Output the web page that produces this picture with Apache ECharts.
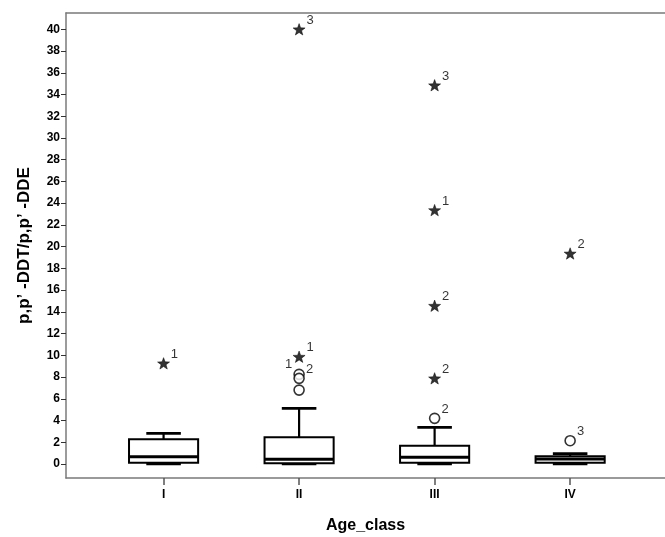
<!DOCTYPE html>
<html>
<head>
<meta charset="utf-8">
<script src="https://cdn.jsdelivr.net/npm/echarts@6/dist/echarts.min.js"></script>
<style>
  html, body { margin: 0; padding: 0; background: #fff; }
  #chart { width: 665px; height: 537px; }
</style>
</head>
<body>
<div id="chart"></div>
<script>
  "use strict";
  var groups = ['I', 'II', 'III', 'IV'];
  var groupPos = [1, 2, 3, 4];
  var boxMin = [0, 0, 0, 0];
  var boxQ1 = [0.12, 0.06, 0.12, 0.12];
  var boxMedian = [0.67, 0.43, 0.62, 0.45];
  var boxQ3 = [2.27, 2.45, 1.68, 0.72];
  var boxMax = [2.82, 5.12, 3.37, 0.95];
  var yTicks = [0, 2, 4, 6, 8, 10, 12, 14, 16, 18, 20, 22, 24, 26, 28, 30, 32, 34, 36, 38, 40];
  // extreme values: [group, value, case label, label side]
  var stars = [
    [1, 9.26, '1', 'right'],
    [2, 40.0, '3', 'right'],
    [2, 9.87, '1', 'right'],
    [3, 34.85, '3', 'right'],
    [3, 23.36, '1', 'right'],
    [3, 14.56, '2', 'right'],
    [3, 7.88, '2', 'right'],
    [4, 19.37, '2', 'right']
  ];
  // outliers: [group, value, case label, label side]
  var circles = [
    [2, 8.25, '1', 'left'],
    [2, 7.88, '2', 'right'],
    [2, 6.8, '', 'right'],
    [3, 4.2, '2', 'right'],
    [4, 2.14, '3', 'right']
  ];
  // case labels whose marker is hidden under a whisker
  var hiddenLabels = [
    [2, 5.12, '3', 'right']
  ];

  var starPath = 'path://M0,-10 L2.4,-3.3 L9.51,-3.09 L3.9,1.27 L5.88,8.09 L0,4.1 L-5.88,8.09 L-3.9,1.27 L-9.51,-3.09 L-2.4,-3.3 Z';
  var font = 'Arial, "Liberation Sans", sans-serif';
  var frameColor = '#7a7a7a';

  function toPoints(list) {
    return list.map(function (d) {
      return {
        value: [d[0], d[1]],
        label: {
          formatter: d[2],
          position: d[3],
          offset: d[3] === 'left' ? [0, -10] : [0, -9]
        }
      };
    });
  }

  var boxData = groups.map(function (g, i) {
    return [groupPos[i], boxMin[i], boxQ1[i], boxMedian[i], boxQ3[i], boxMax[i]];
  });

  function renderBox(params, api) {
    var x = api.value(0);
    var pMin = api.coord([x, api.value(1)]);
    var pQ1 = api.coord([x, api.value(2)]);
    var pMed = api.coord([x, api.value(3)]);
    var pQ3 = api.coord([x, api.value(4)]);
    var pMax = api.coord([x, api.value(5)]);
    var half = api.size([1, 0])[0] * 0.255;
    var cx = pMed[0];
    var line = {stroke: '#000', lineWidth: 2.2};
    return {
      type: 'group',
      children: [
        {type: 'line', shape: {x1: cx, y1: pQ3[1], x2: cx, y2: pMax[1]}, style: line},
        {type: 'line', shape: {x1: cx, y1: pQ1[1], x2: cx, y2: pMin[1]}, style: line},
        {type: 'line', shape: {x1: cx - half / 2, y1: pMax[1], x2: cx + half / 2, y2: pMax[1]}, style: {stroke: '#000', lineWidth: 2.6}},
        {type: 'line', shape: {x1: cx - half / 2, y1: pMin[1], x2: cx + half / 2, y2: pMin[1]}, style: {stroke: '#000', lineWidth: 2.6}},
        {type: 'rect', shape: {x: cx - half, y: pQ3[1], width: half * 2, height: pQ1[1] - pQ3[1]},
          style: {fill: '#fff', stroke: '#000', lineWidth: 2}},
        {type: 'line', shape: {x1: cx - half, y1: pMed[1], x2: cx + half, y2: pMed[1]}, style: {stroke: '#000', lineWidth: 3}}
      ]
    };
  }

  var caseLabel = {
    show: true,
    distance: 1,
    color: '#000',
    fontSize: 13,
    fontFamily: font
  };

  var option = {
    backgroundColor: '#fff',
    animation: false,
    grid: {
      left: 66,
      top: 13,
      right: 0,
      bottom: 59,
      outerBoundsMode: 'none'
    },
    xAxis: [{
      type: 'value',
      min: 0.28,
      max: 4.70,
      name: 'Age_class',
      nameLocation: 'middle',
      nameGap: 40,
      nameTextStyle: {fontSize: 16, fontWeight: 'bold', color: '#000', fontFamily: font},
      splitLine: {show: false},
      axisLine: {show: true, onZero: false, lineStyle: {color: frameColor, width: 1.5}},
      axisTick: {show: true, length: 7, customValues: groupPos, lineStyle: {color: '#555', width: 1.5}},
      axisLabel: {
        customValues: groupPos,
        margin: 11,
        fontSize: 12,
        fontWeight: 'bold',
        color: '#000',
        fontFamily: font,
        formatter: function (v) { return groups[groupPos.indexOf(v)] || ''; }
      }
    }, {
      // top edge of the frame
      type: 'value',
      position: 'top',
      min: 0.28,
      max: 4.70,
      splitLine: {show: false},
      axisLine: {show: true, onZero: false, lineStyle: {color: frameColor, width: 1.5}},
      axisTick: {show: false},
      axisLabel: {show: false}
    }],
    yAxis: {
      type: 'value',
      min: -1.29,
      max: 41.5,
      name: 'p,p\u2019 -DDT/p,p\u2019 -DDE',
      nameLocation: 'middle',
      nameGap: 33,
      nameTextStyle: {fontSize: 17, fontWeight: 'bold', color: '#000', fontFamily: font},
      splitLine: {show: false},
      axisLine: {show: true, onZero: false, lineStyle: {color: frameColor, width: 1.5}},
      axisTick: {show: true, length: 5, customValues: yTicks, lineStyle: {color: '#333', width: 1}},
      axisLabel: {
        customValues: yTicks,
        margin: 6,
        fontSize: 12,
        fontWeight: 'bold',
        color: '#000',
        fontFamily: font
      }
    },
    series: [
      {
        type: 'custom',
        renderItem: renderBox,
        encode: {x: 0, y: [1, 2, 3, 4, 5]},
        data: boxData,
        z: 2
      },
      {
        type: 'scatter',
        symbol: 'circle',
        symbolSize: 10,
        itemStyle: {color: '#fff', borderColor: '#000', borderWidth: 1.6},
        label: caseLabel,
        data: toPoints(circles),
        z: 3
      },
      {
        type: 'scatter',
        symbol: starPath,
        symbolKeepAspect: true,
        symbolSize: 12,
        itemStyle: {color: '#000', borderColor: '#000', borderWidth: 0.6},
        label: caseLabel,
        data: toPoints(stars),
        z: 3
      },
      {
        type: 'scatter',
        symbol: 'none',
        label: caseLabel,
        data: toPoints(hiddenLabels),
        z: 3
      }
    ]
  };

  var chart = echarts.init(document.getElementById('chart'));
  chart.setOption(option);
</script>
</body>
</html>
